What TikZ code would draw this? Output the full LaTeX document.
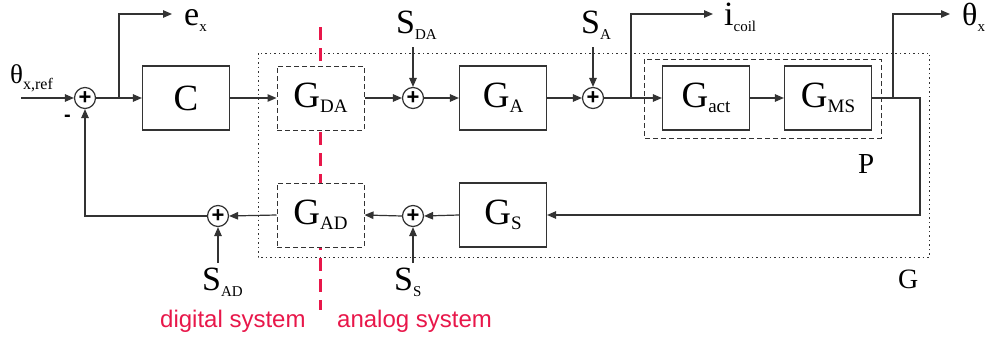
\documentclass[tikz,border=0pt]{standalone}
\usepackage{fontspec}
\setmainfont{Liberation Serif}
\newfontfamily\sysfont{Liberation Sans}
\usetikzlibrary{positioning,arrows.meta,calc}
\definecolor{sigL}{HTML}{333333}
\definecolor{digB}{HTML}{E8174A}
\newcommand{\bsub}[1]{\raisebox{-5pt}{\fontsize{19}{19}\selectfont #1}}
\newcommand{\lsub}[1]{\raisebox{-6pt}{\fontsize{15}{15}\selectfont #1}}
\tikzset{
 block/.style={draw=sigL, fill=white, line width=1.2pt, minimum width=87pt, minimum height=64pt,
               inner sep=0pt, font=\fontsize{37}{37}\selectfont},
 conv/.style={block, dash pattern=on 5pt off 3pt, line width=1pt},
 sum/.style={circle, draw=sigL, fill=white, line width=1.2pt, minimum size=21pt, inner sep=0pt,
             font=\sysfont\bfseries\fontsize{22}{22}\selectfont},
 sig/.style={font=\fontsize{34}{34}\selectfont, inner sep=0pt, anchor=base west},
 sys/.style={font=\sysfont\fontsize{24}{24}\selectfont, text=digB, inner sep=0pt, anchor=base west},
 arr/.style={-{Triangle[length=9pt,width=7.5pt]}, line width=1.2pt, draw=sigL},
 lin/.style={line width=1.2pt, draw=sigL},
}
\begin{document}
\begin{tikzpicture}[x=1pt,y=-1pt]
\useasboundingbox (0,0) rectangle (988,340);
% frames
\draw[draw=sigL, line width=1pt, dash pattern=on 1.5pt off 3pt] (258,53) rectangle (929,257);
\draw[draw=sigL, line width=1pt, dash pattern=on 5pt off 3pt] (644,59) rectangle (881,138);
% digital / analog border
\draw[draw=digB, line width=3pt, dash pattern=on 13pt off 8pt] (320,27) -- (320,310);
% forward path
\node[sum] (s1) at (85,98) {+};
\node[block] (C) at (186,98) {C};
\node[conv] (Gda) at (320.5,98) {G\bsub{DA}};
\node[sum] (sda) at (413,98) {+};
\node[block] (Ga) at (503,98) {G\bsub{A}};
\node[sum] (sa) at (593,98) {+};
\node[block] (Gact) at (706,98) {G\bsub{act}};
\node[block] (Gms) at (828,98) {G\bsub{MS}};
% feedback path
\node[block] (Gs) at (503,215) {G\bsub{S}};
\node[sum] (ss) at (413,216) {+};
\node[conv] (Gad) at (320.5,215) {G\bsub{AD}};
\node[sum] (sad) at (218,216) {+};
% signal ends
\coordinate (ref) at (21,98);
\coordinate (ex) at (172,14);
\coordinate (ic) at (713,14);
\coordinate (th) at (950,14);
\coordinate (nda) at (413,47);
\coordinate (na) at (593,47);
\coordinate (ns) at (413,263);
\coordinate (nad) at (218,263);
% labels
\node[sig, font=\fontsize{27}{27}\selectfont] (lref) at (10,83) {θ\raisebox{-6pt}{\fontsize{16}{16}\selectfont x,ref}};
\node[sig, font=\sysfont\bfseries\fontsize{20}{20}\selectfont] (minus) at (64,121) {-};
\node[sig] (lex) at (184,25) {e\lsub{x}};
\node[sig] (lda) at (396,33) {S\lsub{DA}};
\node[sig] (la) at (581,33) {S\lsub{A}};
\node[sig] (lic) at (724,25) {i\lsub{coil}};
\node[sig, font=\fontsize{32}{32}\selectfont] (lth) at (962,25) {θ\lsub{x}};
\node[sig, font=\fontsize{29}{29}\selectfont] (lP) at (858,173) {P};
\node[sig, font=\fontsize{28}{28}\selectfont] (lG) at (898,288) {G};
\node[sig] (lad) at (202,290) {S\lsub{AD}};
\node[sig] (ls) at (394,290) {S\lsub{S}};
\node[sys] (dig) at (160,327) {digital system};
\node[sys] (ana) at (337,327) {analog system};
% arrows
\draw[arr] (ref) -- (s1.west);
\draw[arr] (s1.east) -- (C.west);
\draw[arr] ($(s1.east)!0.5!(C.west)$) |- (ex);
\draw[arr] (C.east) -- (Gda.west);
\draw[arr] (Gda.east) -- (sda.west);
\draw[arr] (nda) -- (sda.north);
\draw[arr] (sda.east) -- (Ga.west);
\draw[arr] (Ga.east) -- (sa.west);
\draw[arr] (na) -- (sa.north);
\draw[arr] (sa.east) -- (Gact.west);
\draw[arr] (sa.east -| 631,0) |- (ic);
\draw[arr] (Gact.east) -- (Gms.west);
\draw[arr] (Gms.east) -- (920,98) |- (Gs.east);
\draw[arr] (Gms.east -| 893,0) |- (th);
\draw[arr] (Gs.west) -- (ss.east);
\draw[arr] (ns) -- (ss.south);
\draw[arr] (ss.west) -- (Gad.east);
\draw[arr] (Gad.west) -- (sad.east);
\draw[arr] (nad) -- (sad.south);
\draw[arr] (sad.west) -| (s1.south);
\end{tikzpicture}
\end{document}
